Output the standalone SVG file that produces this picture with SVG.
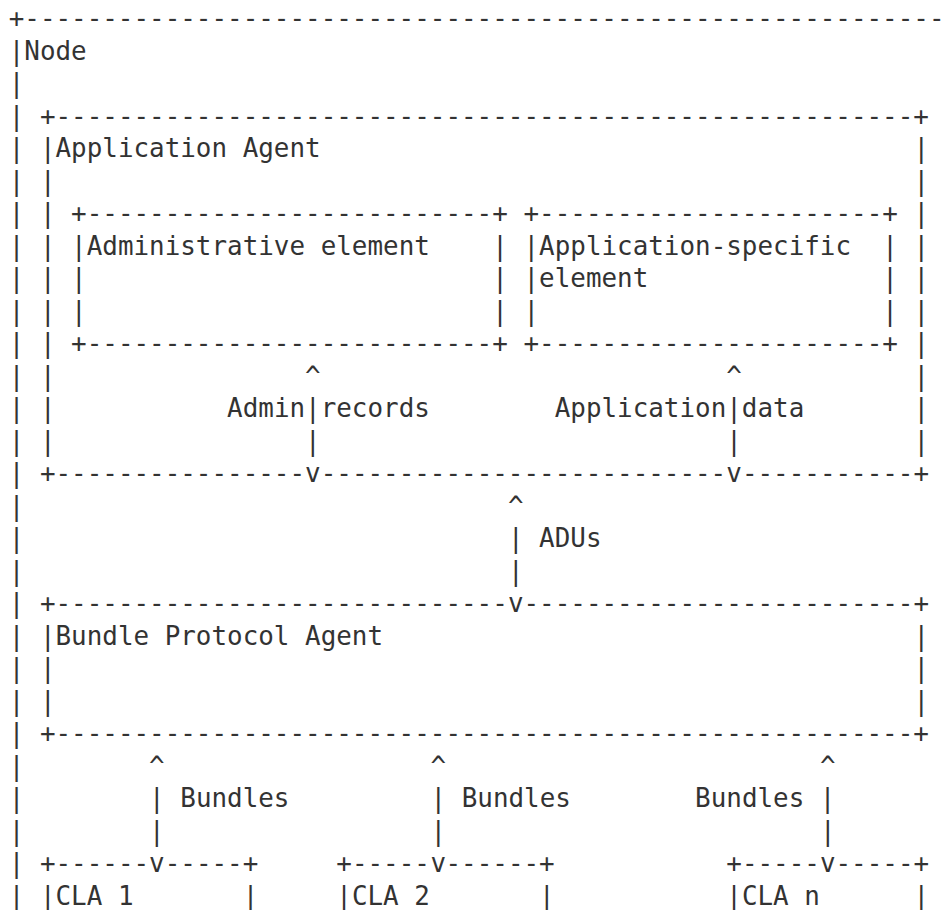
<svg xmlns="http://www.w3.org/2000/svg" width="950" height="910" viewBox="0 0 950 910">
<style>
text{font-family:"DejaVu Sans Mono","Liberation Mono",monospace;font-size:25.91px;fill:#333;white-space:pre}
</style>
<rect width="950" height="910" fill="#fff"/>
<g id="node-frame">
<text x="8.7" y="27">+-----------------------------------------------------------</text>
<text x="8.7" y="59.5">|Node</text>
<text x="8.7" y="92">|</text><text x="8.7" y="124.5">|</text><text x="8.7" y="157">|</text><text x="8.7" y="189.5">|</text>
<text x="8.7" y="222">|</text><text x="8.7" y="254.5">|</text><text x="8.7" y="287">|</text><text x="8.7" y="319.5">|</text>
<text x="8.7" y="352">|</text><text x="8.7" y="384.5">|</text><text x="8.7" y="417">|</text><text x="8.7" y="449.5">|</text>
<text x="8.7" y="482">|</text><text x="8.7" y="514.5">|</text><text x="8.7" y="547">|</text><text x="8.7" y="579.5">|</text>
<text x="8.7" y="612">|</text><text x="8.7" y="644.5">|</text><text x="8.7" y="677">|</text><text x="8.7" y="709.5">|</text>
<text x="8.7" y="742">|</text><text x="8.7" y="774.5">|</text><text x="8.7" y="807">|</text><text x="8.7" y="839.5">|</text>
<text x="8.7" y="872">|</text><text x="8.7" y="904.5">|</text>
</g>
<g id="application-agent">
<text x="39.9" y="124.5">+-------------------------------------------------------+</text>
<text x="39.9" y="157">|Application Agent</text><text x="913.5" y="157">|</text>
<text x="39.9" y="189.5">|</text><text x="913.5" y="189.5">|</text>
<text x="39.9" y="222">|</text><text x="913.5" y="222">|</text>
<text x="39.9" y="254.5">|</text><text x="913.5" y="254.5">|</text>
<text x="39.9" y="287">|</text><text x="913.5" y="287">|</text>
<text x="39.9" y="319.5">|</text><text x="913.5" y="319.5">|</text>
<text x="39.9" y="352">|</text><text x="913.5" y="352">|</text>
<text x="39.9" y="384.5">|</text><text x="913.5" y="384.5">|</text>
<text x="39.9" y="417">|</text><text x="913.5" y="417">|</text>
<text x="39.9" y="449.5">|</text><text x="913.5" y="449.5">|</text>
<text x="39.9" y="482">+----------------</text>
<text x="320.7" y="482">--------------------------</text>
<text x="741.9" y="482">-----------+</text>
</g>
<g id="administrative-element">
<text x="71.1" y="222">+--------------------------+</text>
<text x="71.1" y="254.5">|Administrative element</text><text x="492.3" y="254.5">|</text>
<text x="71.1" y="287">|</text><text x="492.3" y="287">|</text>
<text x="71.1" y="319.5">|</text><text x="492.3" y="319.5">|</text>
<text x="71.1" y="352">+--------------------------+</text>
</g>
<g id="application-specific-element">
<text x="523.5" y="222">+----------------------+</text>
<text x="523.5" y="254.5">|Application-specific</text><text x="882.3" y="254.5">|</text>
<text x="523.5" y="287">|element</text><text x="882.3" y="287">|</text>
<text x="523.5" y="319.5">|</text><text x="882.3" y="319.5">|</text>
<text x="523.5" y="352">+----------------------+</text>
</g>
<g id="bundle-protocol-agent">
<text x="39.9" y="612">+-----------------------------</text>
<text x="523.5" y="612">-------------------------+</text>
<text x="39.9" y="644.5">|Bundle Protocol Agent</text><text x="913.5" y="644.5">|</text>
<text x="39.9" y="677">|</text><text x="913.5" y="677">|</text>
<text x="39.9" y="709.5">|</text><text x="913.5" y="709.5">|</text>
<text x="39.9" y="742">+-------------------------------------------------------+</text>
</g>
<g id="cla-1">
<text x="39.9" y="872">+------</text><text x="164.7" y="872">-----+</text>
<text x="39.9" y="904.5">|CLA 1</text><text x="242.7" y="904.5">|</text>
</g>
<g id="cla-2">
<text x="336.3" y="872">+-----</text><text x="445.5" y="872">------+</text>
<text x="336.3" y="904.5">|CLA 2</text><text x="539.1" y="904.5">|</text>
</g>
<g id="cla-n">
<text x="726.3" y="872">+-----</text><text x="835.5" y="872">-----+</text>
<text x="726.3" y="904.5">|CLA n</text><text x="913.5" y="904.5">|</text>
</g>
<g id="connectors">
<text x="305.1" y="384.5">^</text><text x="227.1" y="417">Admin|records</text><text x="305.1" y="449.5">|</text><text x="305.1" y="482">v</text>
<text x="726.3" y="384.5">^</text><text x="554.7" y="417">Application|data</text><text x="726.3" y="449.5">|</text><text x="726.3" y="482">v</text>
<text x="507.9" y="514.5">^</text><text x="507.9" y="547">| ADUs</text><text x="507.9" y="579.5">|</text><text x="507.9" y="612">v</text>
<text x="149.1" y="774.5">^</text><text x="149.1" y="807">| Bundles</text><text x="149.1" y="839.5">|</text><text x="149.1" y="872">v</text>
<text x="430.5" y="774.5">^</text><text x="430.5" y="807">| Bundles</text><text x="430.5" y="839.5">|</text><text x="430.5" y="872">v</text>
<text x="819.9" y="774.5">^</text><text x="695.1" y="807">Bundles |</text><text x="819.9" y="839.5">|</text><text x="819.9" y="872">v</text>
</g>
</svg>
